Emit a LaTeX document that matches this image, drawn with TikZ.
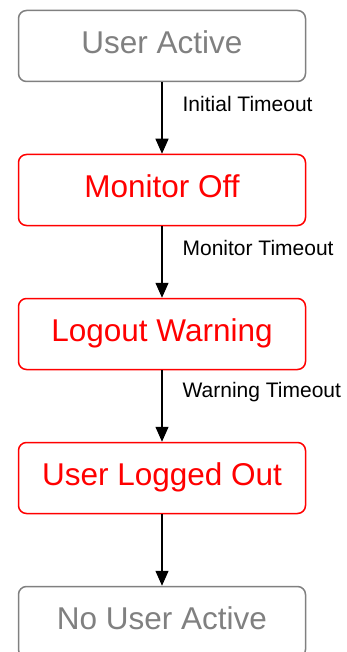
\documentclass[tikz,border=0pt]{standalone}
\usepackage{fontspec}
\setmainfont{Liberation Sans}
\usetikzlibrary{arrows.meta,positioning}

\tikzset{
	state/.style={draw, rounded corners=8pt, line width=1.5pt, minimum width=287pt, minimum height=71pt, inner sep=0pt, text height=22.5pt, text depth=8pt, font=\fontsize{31.5}{36}\selectfont},
	idle/.style={state, draw=black!50, text=black!50},
	alert/.style={state, draw=red, text=red},
	trans/.style={line width=1.3pt, -{Triangle[width=13pt,length=15pt]}},
	lbl/.style={font=\fontsize{21}{24}\selectfont, anchor=west, inner sep=0pt}
}

\begin{document}
\begin{tikzpicture}[x=1pt, y=1pt, node distance=71.5pt]
			%%%%% START %%%%%
			
			\useasboundingbox (0, 0) rectangle (347, -652);
			
			\node[idle] (active) at (162, -46) {User Active};
			\node[alert, below=of active] (monoff) {Monitor Off};
			\node[alert, below=of monoff] (warning) {Logout Warning};
			\node[alert, below=of warning] (loggedout) {User Logged Out};
			\node[idle, below=of loggedout] (noactive) {No User Active};
			
			\draw[trans] (active) -- node[lbl, pos=0.3, xshift=20pt] {Initial Timeout} (monoff);
			\draw[trans] (monoff) -- node[lbl, pos=0.3, xshift=20pt] {Monitor Timeout} (warning);
			\draw[trans] (warning) -- node[lbl, pos=0.3, xshift=20pt] {Warning Timeout} (loggedout);
			\draw[trans] (loggedout) -- (noactive);
			
			%%%%% END %%%%%
		\end{tikzpicture}
\end{document}
